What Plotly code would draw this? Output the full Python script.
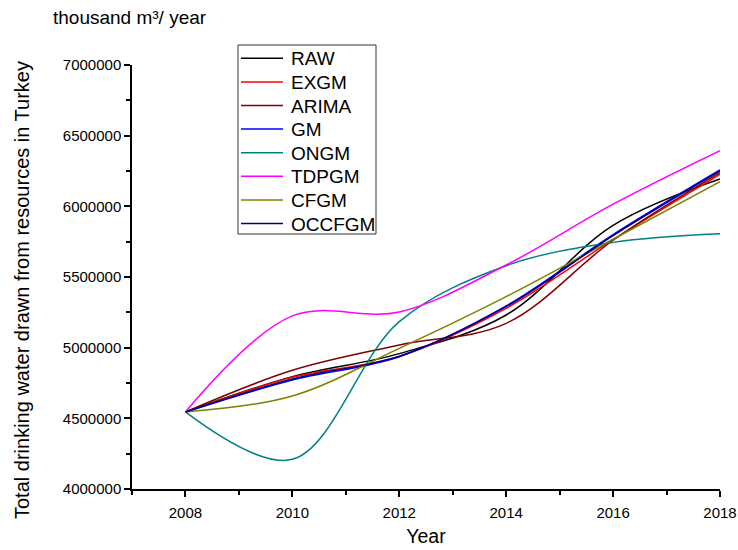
import plotly.graph_objects as go

# Biennial observations and model fits (thousand m³ / year)
years = [2008, 2010, 2012, 2014, 2016, 2018]

raw    = [4545000, 4795000, 4958000, 5231000, 5865000, 6193000]
exgm   = [4545000, 4790000, 4938000, 5278000, 5765000, 6226000]
arima  = [4545000, 4840000, 5019000, 5172000, 5760000, 6238000]
gm     = [4545000, 4771000, 4936000, 5295000, 5800000, 6257000]
ongm   = [4545000, 4210000, 5184000, 5580000, 5745000, 5806000]
tdpgm  = [4545000, 5225000, 5252000, 5585000, 6015000, 6394000]
cfgm   = [4545000, 4658000, 4995000, 5361000, 5767000, 6174000]
occfgm = [4545000, 4778000, 4940000, 5290000, 5792000, 6250000]

names  = ["RAW", "EXGM", "ARIMA", "GM", "ONGM", "TDPGM", "CFGM", "OCCFGM"]
values = [raw, exgm, arima, gm, ongm, tdpgm, cfgm, occfgm]
colors = ["#000000", "#FF0000", "#800000", "#0000FF",
          "#008080", "#FF00FF", "#808000", "#000080"]

FONT = "Arial, Liberation Sans, sans-serif"
W, H = 738, 550
ML, MR, MT, MB = 132, 18, 65, 61
PW, PH = W - ML - MR, H - MT - MB


def fx(px):
    """pixel x -> paper x"""
    return (px - ML) / PW


def fy(py):
    """pixel y -> paper y"""
    return (H - MB - py) / PH


fig = go.Figure()
for name, vals, color in zip(names, values, colors):
    fig.add_trace(go.Scatter(
        x=years, y=vals, name=name, mode="lines", showlegend=False,
        line=dict(color=color, width=1.5, shape="spline", smoothing=1.0),
    ))

# Boxed legend: 40 px line samples with labels
shapes = [dict(type="rect", xref="paper", yref="paper",
               x0=fx(238), x1=fx(376), y0=fy(45), y1=fy(234),
               line=dict(color="#333333", width=1), fillcolor="white", layer="above")]
annotations = []
row0, step = 58.3, 23.6
for i, (name, color) in enumerate(zip(names, colors)):
    yy = row0 + i * step
    shapes.append(dict(type="line", xref="paper", yref="paper",
                       x0=fx(241), x1=fx(283), y0=fy(yy), y1=fy(yy),
                       line=dict(color=color, width=1.5), layer="above"))
    annotations.append(dict(text=name, xref="paper", yref="paper",
                            x=fx(289), y=fy(yy + 0.5), xanchor="left", yanchor="middle",
                            showarrow=False, font=dict(size=19, family=FONT, color="black")))

# Unit label above the plot and rotated y-axis title
annotations.append(dict(
    text="thousand m³/ year", xref="paper", yref="paper",
    x=fx(51), y=fy(18), xanchor="left", yanchor="middle",
    showarrow=False, font=dict(size=19, family=FONT, color="black"),
))
annotations.append(dict(
    text="Total drinking water drawn from resources in Turkey",
    xref="paper", yref="paper", x=fx(22), y=fy(290),
    xanchor="center", yanchor="middle", textangle=-90,
    showarrow=False, font=dict(size=20, family=FONT, color="black"),
))

fig.update_layout(
    width=W, height=H,
    margin=dict(l=ML, r=MR, t=MT, b=MB, autoexpand=False),
    paper_bgcolor="white", plot_bgcolor="white",
    font=dict(family=FONT, color="black"),
    showlegend=False,
    shapes=shapes,
    annotations=annotations,
)

fig.update_xaxes(
    range=[2007, 2018], tick0=2008, dtick=2, automargin=False,
    showline=True, linecolor="black", linewidth=1.5,
    ticks="outside", ticklen=6, tickwidth=1.5, tickcolor="black",
    minor=dict(ticks="outside", ticklen=4, dtick=1, tick0=2007, tickcolor="black", tickwidth=1.5),
    showgrid=False, zeroline=False,
    ticklabelstandoff=3,
    tickfont=dict(size=15, family=FONT),
    title=dict(text="Year", font=dict(size=19.5, family=FONT), standoff=10),
)
fig.update_yaxes(
    range=[4000000, 7000000], tick0=4000000, dtick=500000, tickformat="d", automargin=False,
    showline=True, linecolor="black", linewidth=1.5,
    ticks="outside", ticklen=6, tickwidth=1.5, tickcolor="black",
    minor=dict(ticks="outside", ticklen=4, dtick=250000, tickcolor="black", tickwidth=1.5),
    showgrid=False, zeroline=False,
    tickfont=dict(size=15, family=FONT),
)

fig.write_html("out.html")
